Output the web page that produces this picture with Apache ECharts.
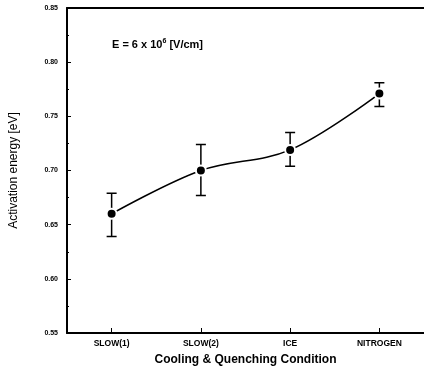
<!DOCTYPE html>
<html>
<head>
<meta charset="utf-8">
<script src="https://cdn.jsdelivr.net/npm/echarts@6/dist/echarts.min.js"></script>
<style>
  html, body { margin: 0; padding: 0; background: #fff; }
  #main { width: 424px; height: 371px; }
</style>
</head>
<body>
<div id="main"></div>
<script>
const categories = ['SLOW(1)', 'SLOW(2)', 'ICE', 'NITROGEN'];
const energy = [0.660, 0.700, 0.719, 0.771];
const errUp = [0.019, 0.024, 0.016, 0.010];
const errDown = [0.021, 0.023, 0.015, 0.012];
const yTicks = [0.55, 0.85, 0.05];

// error bars drawn as zero-height boxplots: [low, value, value, value, high]
const errData = energy.map((v, i) => [v - errDown[i], v, v, v, v + errUp[i]]);

const chart = echarts.init(document.getElementById('main'));

const option = {
    animation: false,
    grid: { left: 67, top: 8, right: -5, bottom: 38 },
    xAxis: [
        {
            type: 'category',
            data: categories,
            axisLine: { lineStyle: { color: '#000', width: 2 } },
            axisTick: { show: true, inside: true, alignWithLabel: true, length: 5, lineStyle: { color: '#000', width: 1 } },
            axisLabel: { color: '#000', fontSize: 8.5, fontWeight: 'bold', fontFamily: 'Liberation Sans', margin: 6 },
            name: 'Cooling & Quenching Condition',
            nameLocation: 'middle',
            nameGap: 21,
            nameTextStyle: { color: '#000', fontSize: 12, fontWeight: 'bold', fontFamily: 'Liberation Sans' }
        },
        {
            type: 'category',
            data: categories,
            position: 'top',
            axisLine: { lineStyle: { color: '#000', width: 2 } },
            axisTick: { show: false },
            axisLabel: { show: false }
        }
    ],
    yAxis: {
        type: 'value',
        min: yTicks[0],
        max: yTicks[1],
        interval: yTicks[2],
        axisLine: { show: true, lineStyle: { color: '#000', width: 2 } },
        axisTick: { show: true, inside: true, length: 4, lineStyle: { color: '#000' } },
        minorTick: { show: true, splitNumber: 2, length: 2, lineStyle: { color: '#000' } },
        splitLine: { show: false },
        axisLabel: {
            color: '#000', fontSize: 7, fontWeight: 'bold', fontFamily: 'Liberation Sans', margin: 9,
            formatter: v => v.toFixed(2)
        },
        name: 'Activation energy [eV]',
        nameLocation: 'middle',
        nameGap: 47,
        nameRotate: 90,
        nameTextStyle: { color: '#000', fontSize: 12, fontFamily: 'Liberation Sans' }
    },
    title: {
        text: '{a|E = 6 x 10}{s|6}{a| [V/cm]}',
        left: 107,
        top: 33,
        textStyle: {
            rich: {
                a: { fontSize: 11, fontWeight: 'bold', fontFamily: 'Liberation Sans', color: '#000' },
                s: { fontSize: 7, fontWeight: 'bold', fontFamily: 'Liberation Sans', color: '#000', verticalAlign: 'top', padding: [0, 0, 7, 0] }
            }
        }
    },
    // the original plot has no right frame edge
    graphic: [{
        type: 'rect',
        z: 100,
        shape: { x: 416, y: 10, width: 8, height: 321 },
        style: { fill: '#fff' }
    }],
    series: [
        {
            type: 'boxplot',
            data: errData,
            boxWidth: [10, 10],
            itemStyle: { color: '#fff', borderColor: '#000', borderWidth: 1.5 },
            z: 2
        },
        {
            type: 'line',
            data: energy,
            smooth: 0.35,
            symbol: 'circle',
            symbolSize: 10,
            itemStyle: { color: '#000', borderColor: '#fff', borderWidth: 2 },
            lineStyle: { color: '#000', width: 1.5 },
            z: 3
        }
    ]
};

chart.setOption(option);
</script>
</body>
</html>
